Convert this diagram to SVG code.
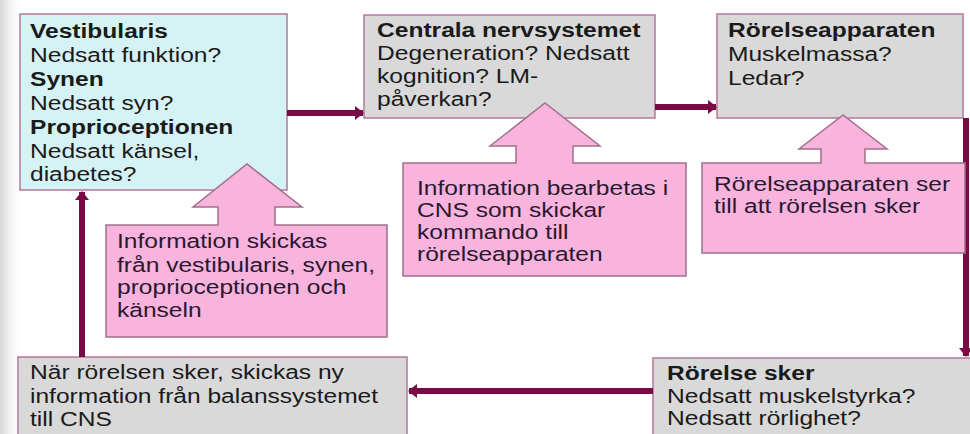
<svg xmlns="http://www.w3.org/2000/svg" width="970" height="434" viewBox="0 0 970 434">
<defs>
<linearGradient id="edge" x1="0" y1="0" x2="1" y2="0">
<stop offset="0" stop-color="#d6d6d6"/>
<stop offset="1" stop-color="#ffffff" stop-opacity="0"/>
</linearGradient>
<marker id="ah" markerUnits="userSpaceOnUse" markerWidth="9" markerHeight="14" refX="8" refY="7" orient="auto">
<path d="M0,0 L9,7 L0,14 Z" fill="#7a0a45"/>
</marker>
</defs>
<style>
.box{stroke:#b07a98;stroke-width:1.5}
.gray{fill:#d9d9d9}
.cyan{fill:#d5f2f5}
.callout{fill:#f8b4dc;stroke:#a0708c;stroke-width:1.5}
text{font-family:"Liberation Sans",Arial,Helvetica,sans-serif;font-size:21px;fill:#1a1a1a}
.pk text{fill:#2a1830}
.b{font-weight:bold}
.conn{stroke:#7a0a45;stroke-width:6;fill:none}
</style>
<rect x="0" y="0" width="970" height="434" fill="#ffffff"/>
<rect x="0" y="0" width="24" height="434" fill="url(#edge)"/>

<g id="vestibularis">
<rect class="box cyan" x="20" y="14" width="267" height="176"/>
<g transform="translate(30 0) scale(1.17 1)">
<text class="b" y="38">Vestibularis</text>
<text y="62">Nedsatt funktion?</text>
<text class="b" y="86">Synen</text>
<text y="110">Nedsatt syn?</text>
<text class="b" y="134">Proprioceptionen</text>
<text y="158">Nedsatt känsel,</text>
<text y="181">diabetes?</text>
</g>
</g>

<g id="cns">
<rect class="box gray" x="364" y="15" width="291" height="103"/>
<g transform="translate(377 0) scale(1.17 1)">
<text class="b" y="37">Centrala nervsystemet</text>
<text y="60">Degeneration? Nedsatt</text>
<text y="83">kognition? LM-</text>
<text y="106">påverkan?</text>
</g>
</g>

<g id="rorelseapparaten">
<rect class="box gray" x="717" y="14" width="246" height="104"/>
<g transform="translate(728 0) scale(1.17 1)">
<text class="b" y="37">Rörelseapparaten</text>
<text y="61">Muskelmassa?</text>
<text y="85">Ledar?</text>
</g>
</g>

<g id="rorelse-sker">
<rect class="box gray" x="653" y="358" width="325" height="90"/>
<g transform="translate(667 0) scale(1.17 1)">
<text class="b" y="380">Rörelse sker</text>
<text y="403">Nedsatt muskelstyrka?</text>
<text y="425">Nedsatt rörlighet?</text>
</g>
</g>

<g id="ny-information">
<rect class="box gray" x="18" y="357" width="389" height="90"/>
<g transform="translate(30 0) scale(1.17 1)">
<text y="379">När rörelsen sker, skickas ny</text>
<text y="403">information från balanssystemet</text>
<text y="426">till CNS</text>
</g>
</g>

<g id="connectors">
<line class="conn" x1="287" y1="113" x2="363" y2="113" marker-end="url(#ah)"/>
<line class="conn" x1="655" y1="107" x2="716" y2="107" marker-end="url(#ah)"/>
<line class="conn" x1="966" y1="118" x2="966" y2="356" stroke-width="5" marker-end="url(#ah)"/>
<line class="conn" x1="653" y1="391" x2="409" y2="391" marker-end="url(#ah)"/>
<line class="conn" x1="82" y1="357" x2="82" y2="192" marker-end="url(#ah)"/>
</g>

<g id="callout-info" class="pk">
<path class="callout" d="M106,225 H218 V207 H193 L247,164 L302,207 H275 V225 H387 V337 H106 Z"/>
<g transform="translate(117 0) scale(1.17 1)">
<text y="248">Information skickas</text>
<text y="272">från vestibularis, synen,</text>
<text y="294">proprioceptionen och</text>
<text y="317">känseln</text>
</g>
</g>

<g id="callout-cns" class="pk">
<path class="callout" d="M403,163 H516 V146 H490 L545,103 L600,146 H573 V163 H686 V276 H403 Z"/>
<g transform="translate(417 0) scale(1.17 1)">
<text y="195">Information bearbetas i</text>
<text y="217">CNS som skickar</text>
<text y="239">kommando till</text>
<text y="261">rörelseapparaten</text>
</g>
</g>

<g id="callout-rorelse" class="pk">
<path class="callout" d="M702,163 H821 V149 H799 L843,115 L887,149 H865 V163 H965 V253 H702 Z"/>
<g transform="translate(714 0) scale(1.17 1)">
<text y="191">Rörelseapparaten ser</text>
<text y="213">till att rörelsen sker</text>
</g>
</g>
</svg>
